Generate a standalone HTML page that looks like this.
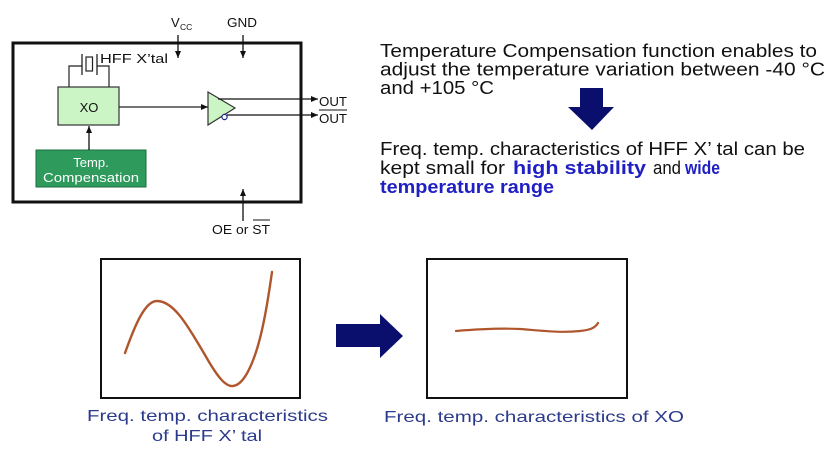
<!DOCTYPE html>
<html>
<head>
<meta charset="utf-8">
<style>
  html, body { margin:0; padding:0; background:#ffffff; }
  body { width:839px; height:460px; overflow:hidden; }
  svg { display:block; }
  text { font-family: "Liberation Sans", "DejaVu Sans", sans-serif; }
</style>
</head>
<body>
<svg width="839" height="460" viewBox="0 0 839 460" xmlns="http://www.w3.org/2000/svg">
  <defs>
    <marker id="ah" markerWidth="8" markerHeight="8" refX="7" refY="4" orient="auto" markerUnits="userSpaceOnUse">
      <path d="M0,1 L7,4 L0,7 Z" fill="#111"/>
    </marker>
  </defs>

  <!-- ===== Block diagram ===== -->
  <rect x="13" y="43" width="288" height="159" fill="#fff" stroke="#111" stroke-width="3"/>

  <!-- Vcc / GND -->
  <text x="171" y="27" font-size="13" fill="#111">V</text>
  <text x="180" y="30" font-size="8.5" fill="#111">CC</text>
  <text x="227" y="27" font-size="13" fill="#111" textLength="30" lengthAdjust="spacingAndGlyphs">GND</text>
  <line x1="178" y1="35" x2="178" y2="58" stroke="#111" stroke-width="1.3" marker-end="url(#ah)"/>
  <line x1="243" y1="35" x2="243" y2="58" stroke="#111" stroke-width="1.3" marker-end="url(#ah)"/>

  <!-- OE or ST -->
  <line x1="243" y1="221" x2="243" y2="189" stroke="#111" stroke-width="1.3" marker-end="url(#ah)"/>
  <text x="212" y="234" font-size="13" fill="#111" textLength="58" lengthAdjust="spacingAndGlyphs">OE or ST</text>
  <line x1="253" y1="220" x2="270" y2="220" stroke="#111" stroke-width="1"/>

  <!-- Crystal -->
  <polyline points="69,87 69,66 82,66" fill="none" stroke="#222" stroke-width="1.2"/>
  <polyline points="109,87 109,66 97,66" fill="none" stroke="#222" stroke-width="1.2"/>
  <line x1="82" y1="54" x2="82" y2="75" stroke="#222" stroke-width="1.3"/>
  <line x1="97" y1="54" x2="97" y2="75" stroke="#222" stroke-width="1.3"/>
  <rect x="86" y="57" width="6.5" height="14" fill="#fff" stroke="#222" stroke-width="1.2"/>
  <text x="100" y="63" font-size="13" fill="#111" textLength="68" lengthAdjust="spacingAndGlyphs">HFF X’tal</text>

  <!-- XO box -->
  <rect x="58" y="87" width="61" height="38" fill="#ccf5c6" stroke="#333" stroke-width="1.2"/>
  <text x="89" y="112" font-size="13" fill="#111" text-anchor="middle">XO</text>

  <!-- Temp compensation box -->
  <rect x="36" y="150" width="110" height="37" fill="#2e9a5c" stroke="#1d6e3f" stroke-width="1"/>
  <text x="91" y="167" font-size="13" fill="#fff" text-anchor="middle">Temp.</text>
  <text x="43" y="182" font-size="13" fill="#fff" textLength="96" lengthAdjust="spacingAndGlyphs">Compensation</text>
  <line x1="89" y1="150" x2="89" y2="126" stroke="#111" stroke-width="1.3" marker-end="url(#ah)"/>

  <!-- XO to buffer -->
  <line x1="119" y1="107" x2="208" y2="107" stroke="#222" stroke-width="1.2" marker-end="url(#ah)"/>

  <!-- Buffer -->
  <polygon points="208,92 235,108 208,125" fill="#ccf5c6" stroke="#333" stroke-width="1.2"/>
  <line x1="218" y1="99" x2="318" y2="99" stroke="#111" stroke-width="1.2" marker-end="url(#ah)"/>
  <line x1="227" y1="115" x2="318" y2="115" stroke="#111" stroke-width="1.2" marker-end="url(#ah)"/>
  <circle cx="224.5" cy="117" r="2.6" fill="#fff" stroke="#1a2a88" stroke-width="1.2"/>

  <!-- OUT labels -->
  <text x="319" y="106" font-size="13" fill="#111" textLength="28" lengthAdjust="spacingAndGlyphs">OUT</text>
  <line x1="319" y1="110" x2="347" y2="110" stroke="#111" stroke-width="1"/>
  <text x="319" y="123" font-size="13" fill="#111" textLength="28" lengthAdjust="spacingAndGlyphs">OUT</text>

  <!-- ===== Right-side text ===== -->
  <text x="380" y="57" font-size="18" fill="#111" textLength="437" lengthAdjust="spacingAndGlyphs">Temperature Compensation function enables to</text>
  <text x="380" y="75.5" font-size="18" fill="#111" textLength="445" lengthAdjust="spacingAndGlyphs">adjust the temperature variation between -40 °C</text>
  <text x="380" y="94" font-size="18" fill="#111" textLength="114" lengthAdjust="spacingAndGlyphs">and +105 °C</text>

  <!-- Down arrow -->
  <polygon points="580,88 603,88 603,107 614,107 592,130 568,107 580,107" fill="#0a0f6e"/>

  <text x="380" y="155" font-size="18" fill="#111" textLength="425" lengthAdjust="spacingAndGlyphs">Freq. temp. characteristics of HFF X’ tal can be</text>
  <text x="380" y="174" font-size="18" fill="#111" textLength="125" lengthAdjust="spacingAndGlyphs">kept small for</text>
  <text x="513" y="174" font-size="18" font-weight="bold" fill="#1f1fc4" textLength="133" lengthAdjust="spacingAndGlyphs">high stability</text>
  <text x="653" y="174" font-size="18" fill="#111" textLength="28" lengthAdjust="spacingAndGlyphs">and</text>
  <text x="685" y="174" font-size="18" font-weight="bold" fill="#1f1fc4" textLength="35" lengthAdjust="spacingAndGlyphs">wide</text>
  <text x="380" y="193" font-size="18" font-weight="bold" fill="#1f1fc4" textLength="174" lengthAdjust="spacingAndGlyphs">temperature range</text>

  <!-- ===== Bottom charts ===== -->
  <rect x="101" y="259" width="199" height="139" fill="#fff" stroke="#111" stroke-width="2"/>
  <path d="M125,353 C135,325 145,301 157,301 C175,301 190,330 205,355 C218,378 226,387 233,386 C242,385 249,372 255,355 C263,332 268,300 272,272"
        fill="none" stroke="#b0562d" stroke-width="2.4" stroke-linecap="round"/>

  <rect x="427" y="259" width="200" height="139" fill="#fff" stroke="#111" stroke-width="2"/>
  <path d="M456,331 C480,329 500,328 520,329 C545,331 560,333 580,331 C590,330 595,328 598,323"
        fill="none" stroke="#b0562d" stroke-width="2.2" stroke-linecap="round"/>

  <!-- Right arrow -->
  <polygon points="336,324 380,324 380,314 403,336 380,358 380,347 336,347" fill="#0a0f6e"/>

  <!-- Captions -->
  <text x="87" y="421" font-size="16" fill="#2b3a8c" textLength="241" lengthAdjust="spacingAndGlyphs">Freq. temp. characteristics</text>
  <text x="152" y="441" font-size="16" fill="#2b3a8c" textLength="110" lengthAdjust="spacingAndGlyphs">of HFF X’ tal</text>
  <text x="384" y="422" font-size="16" fill="#2b3a8c" textLength="300" lengthAdjust="spacingAndGlyphs">Freq. temp. characteristics of XO</text>
</svg>
</body>
</html>
